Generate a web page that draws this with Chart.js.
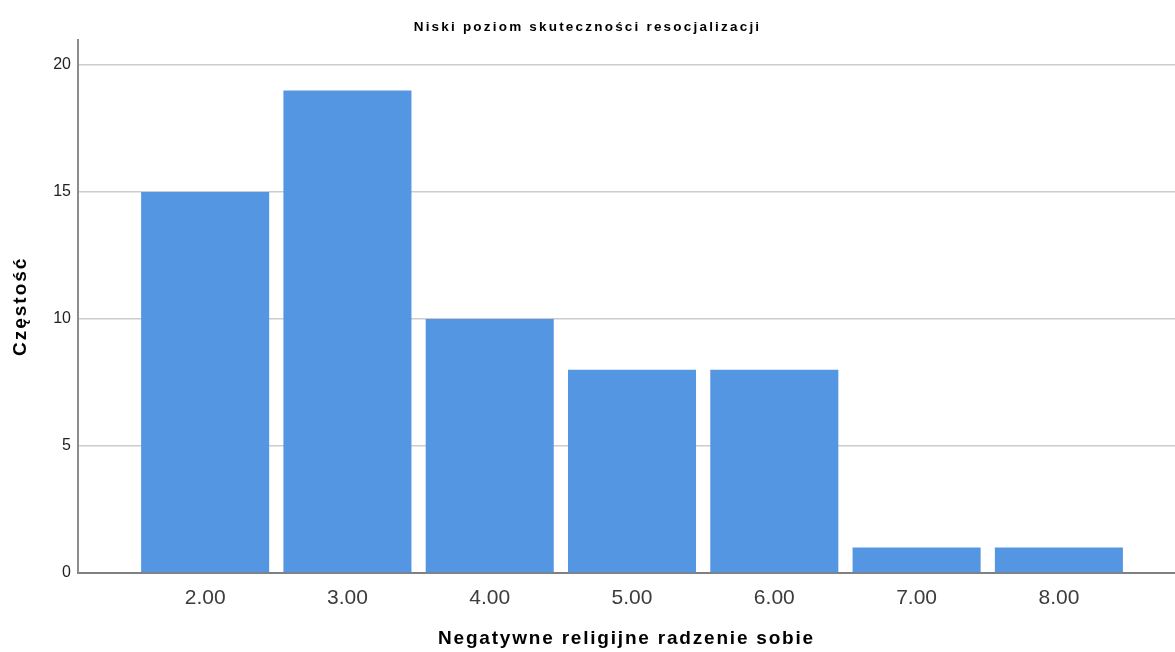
<!DOCTYPE html>
<html>
<head>
<meta charset="utf-8">
<script src="https://cdn.jsdelivr.net/npm/chart.js@4"></script>
<style>
  html, body { margin: 0; padding: 0; background: #fff; }
  #wrap { width: 1175px; height: 652px; }
</style>
</head>
<body>
<div id="wrap"><canvas id="chart"></canvas></div>
<script>
const categories = [2, 3, 4, 5, 6, 7, 8];
const counts = [15, 19, 10, 8, 8, 1, 1];
const yTicks = [0, 5, 10, 15, 20];

const chartTitle = 'Niski poziom skuteczności resocjalizacji';
const xTitle = 'Negatywne religijne radzenie sobie';
const yTitle = 'Częstość';

// SPSS draws its bold labels with wide letter spacing
const spacedText = {
  id: 'spacedText',
  afterUpdate(chart) {
    const wrap = (obj, spacing) => {
      if (!obj || obj._spaced) return;
      obj._spaced = true;
      const fn = obj.drawTitle ? 'drawTitle' : 'draw';
      const original = obj[fn];
      obj[fn] = function() {
        const ctx = chart.ctx;
        ctx.save();
        ctx.letterSpacing = spacing;
        original.apply(this, arguments);
        ctx.restore();
      };
    };
    wrap(chart.scales.x, '1.8px');
    wrap(chart.scales.y, '2px');
    wrap(chart.titleBlock, '2.2px');
  }
};

document.addEventListener('DOMContentLoaded', function() {
  const ctx = document.getElementById('chart').getContext('2d');
  new Chart(ctx, {
    type: 'bar',
    data: {
      datasets: [{
        data: categories.map((c, i) => ({ x: c, y: counts[i] })),
        backgroundColor: '#5596e3',
        borderWidth: 0,
        categoryPercentage: 1,
        barPercentage: 0.9
      }]
    },
    options: {
      responsive: true,
      maintainAspectRatio: false,
      animation: false,
      layout: { padding: 0 },
      plugins: {
        legend: { display: false },
        tooltip: { enabled: false },
        title: {
          display: true,
          text: chartTitle,
          color: '#000',
          font: { family: 'Liberation Sans', size: 13.5, weight: 'bold', lineHeight: 1.2 },
          padding: { top: 19, bottom: 4.4 }
        }
      },
      scales: {
        x: {
          type: 'linear',
          offset: false,
          min: 1.1065,
          max: 8.816,
          afterFit(scale) { scale.height = 79; },
          afterBuildTicks(scale) { scale.ticks = categories.map(v => ({ value: v })); },
          grid: { display: false, drawTicks: false, offset: false },
          border: { display: true, color: '#808080', width: 2 },
          ticks: {
            includeBounds: false,
            padding: 13,
            color: '#3c3c3c',
            font: { family: 'Liberation Sans', size: 21 },
            callback: v => Number(v).toFixed(2)
          },
          title: {
            display: true,
            text: xTitle,
            color: '#000',
            font: { family: 'Liberation Sans', size: 19, weight: 'bold', lineHeight: 1.2 },
            padding: { top: 0, bottom: 2 }
          }
        },
        y: {
          min: 0,
          max: 21,
          afterFit(scale) { scale.width = 78; },
          afterBuildTicks(scale) { scale.ticks = yTicks.map(v => ({ value: v })); },
          grid: { color: '#cccccc', lineWidth: 1.5, drawTicks: false },
          border: { display: true, color: '#8c8c8c', width: 2 },
          ticks: {
            includeBounds: false,
            padding: 7,
            color: '#222',
            font: { family: 'Liberation Sans', size: 16 }
          },
          title: {
            display: true,
            text: yTitle,
            color: '#000',
            font: { family: 'Liberation Sans', size: 19, weight: 'bold', lineHeight: 1.2 },
            padding: { top: 9, bottom: 0 }
          }
        }
      }
    },
    plugins: [spacedText]
  });
});
</script>
</body>
</html>
